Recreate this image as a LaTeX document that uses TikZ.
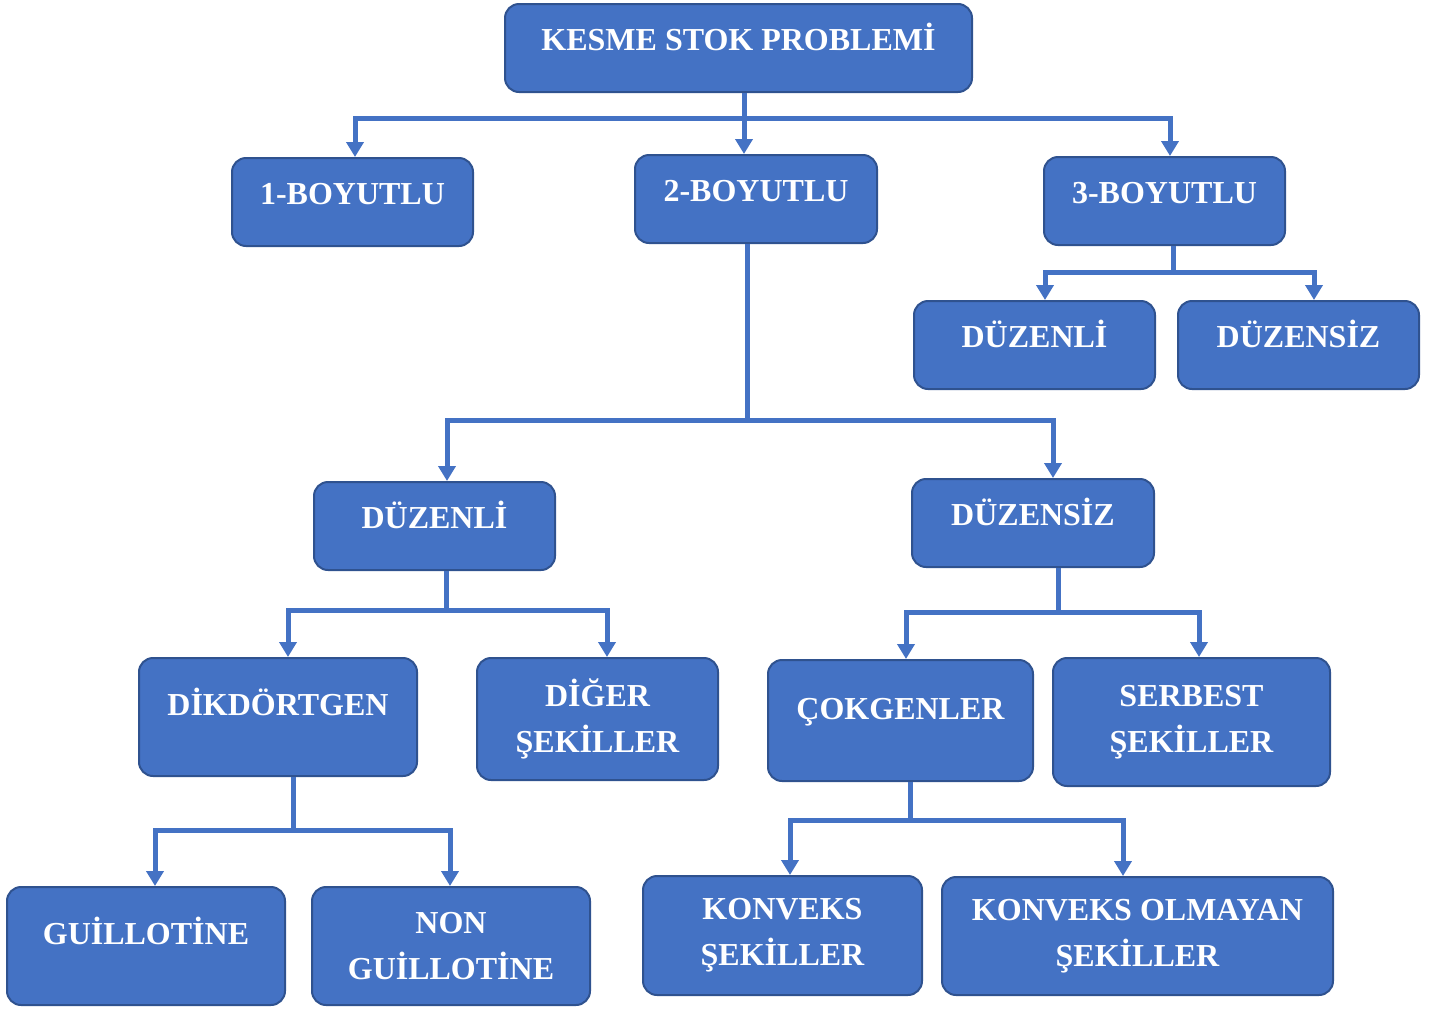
\documentclass[tikz,border=0pt]{standalone}
\usepackage{fontspec}
\setmainfont{Liberation Serif}
\usetikzlibrary{arrows.meta, positioning}
\definecolor{boxblue}{HTML}{4472C4}
\definecolor{boxedge}{HTML}{2F528F}

\begin{document}
\begin{tikzpicture}[x=1pt, y=-1pt,
    box/.style={draw=boxedge, line width=2pt, fill=boxblue, rounded corners=14pt,
                text=white, font=\fontsize{32}{46}\selectfont\bfseries,
                align=center, inner sep=0pt},
    low/.style={minimum height=88pt, text height=22pt, text depth=17pt},
    high/.style={minimum height=118pt, text height=22pt, text depth=25pt},
    stem/.style={draw=boxblue, line width=5pt},
    link/.style={stem, -{Triangle[width=17pt, length=15pt]}}
  ]
  \useasboundingbox (0,0) rectangle (1443,1010);

  % top level
  \node[box, low, minimum width=467pt] (root) at (738.5,48) {KESME STOK PROBLEMİ};
  \node[box, low, minimum width=241pt] (one) at (352.5,202) {1-BOYUTLU};
  \node[box, low, minimum width=242pt] (two) at (756,199) {2-BOYUTLU};
  \node[box, low, minimum width=241pt] (three) at (1164.5,201) {3-BOYUTLU};

  % 3d branch
  \node[box, low, minimum width=241pt] (threereg) at (1034.5,345) {DÜZENLİ};
  \node[box, low, minimum width=241pt] (threeirr) at (1298.5,345) {DÜZENSİZ};

  % 2d branch
  \node[box, low, minimum width=241pt] (tworeg) at (434.5,526) {DÜZENLİ};
  \node[box, low, minimum width=242pt] (twoirr) at (1033,523) {DÜZENSİZ};
  \node[box, high, minimum width=278pt] (rect) at (278,717) {DİKDÖRTGEN};
  \node[box, minimum width=241pt, minimum height=122pt] (other) at (597.5,719) {DİĞER\\ŞEKİLLER};
  \node[box, high, minimum width=265pt, minimum height=121pt] (poly) at (900.5,720.5) {ÇOKGENLER};
  \node[box, minimum width=277pt, minimum height=128pt] (free) at (1191.5,722) {SERBEST\\ŞEKİLLER};
  \node[box, high, minimum width=278pt] (guil) at (146,946) {GUİLLOTİNE};
  \node[box, minimum width=278pt, minimum height=118pt] (nguil) at (451,946) {NON\\GUİLLOTİNE};
  \node[box, minimum width=279pt, minimum height=119pt] (conv) at (782.5,935.5) {KONVEKS\\ŞEKİLLER};
  \node[box, minimum width=391pt, minimum height=118pt] (nconv) at (1137.5,936) {KONVEKS OLMAYAN\\ŞEKİLLER};

  % junctions
  \coordinate (j1) at (744,118);
  \coordinate (j2) at (1173,272);
  \coordinate (j3) at (747,420);
  \coordinate (j4) at (446,610);
  \coordinate (j5) at (1058,612);
  \coordinate (j6) at (293,830);
  \coordinate (j7) at (910,820);

  \draw[stem] (root.south -| j1) -- (j1);
  \draw[link] (j1) -| ([xshift=2.5pt]one.north);
  \draw[link] (j1) -- (j1 |- two.north);
  \draw[link] (j1) -| ([xshift=5.5pt]three.north);

  \draw[stem] (three.south -| j2) -- (j2);
  \draw[link] (j2) -| ([xshift=10.5pt]threereg.north);
  \draw[link] (j2) -| ([xshift=15.5pt]threeirr.north);

  \draw[stem] (two.south -| j3) -- (j3);
  \draw[link] (j3) -| ([xshift=12.5pt]tworeg.north);
  \draw[link] (j3) -| ([xshift=20pt]twoirr.north);

  \draw[stem] (tworeg.south -| j4) -- (j4);
  \draw[link] (j4) -| ([xshift=10pt]rect.north);
  \draw[link] (j4) -| ([xshift=9.5pt]other.north);

  \draw[stem] (twoirr.south -| j5) -- (j5);
  \draw[link] (j5) -| ([xshift=5.5pt]poly.north);
  \draw[link] (j5) -| ([xshift=7.5pt]free.north);

  \draw[stem] (rect.south -| j6) -- (j6);
  \draw[link] (j6) -| ([xshift=9pt]guil.north);
  \draw[link] (j6) -| ([xshift=-1pt]nguil.north);

  \draw[stem] (poly.south -| j7) -- (j7);
  \draw[link] (j7) -| ([xshift=7.5pt]conv.north);
  \draw[link] (j7) -| ([xshift=-14.5pt]nconv.north);
\end{tikzpicture}
\end{document}
